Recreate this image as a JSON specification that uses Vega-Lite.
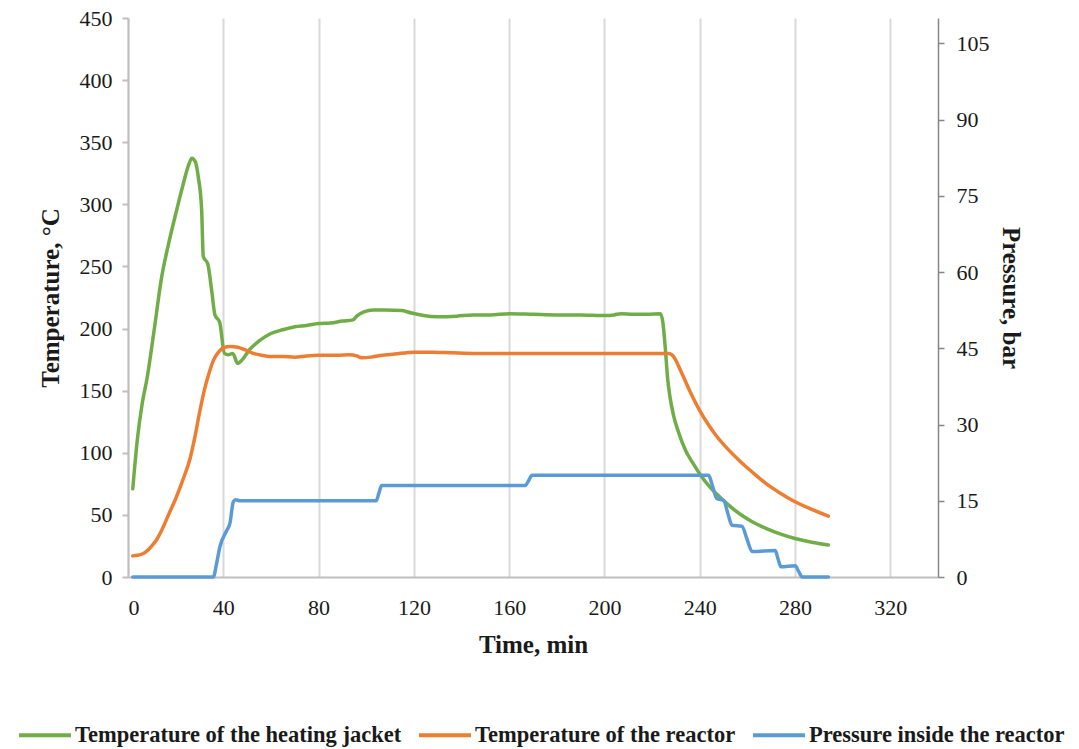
{
  "$schema": "https://vega.github.io/schema/vega-lite/v6.json",
  "width": 810,
  "height": 559,
  "autosize": {"type": "none"},
  "padding": {"left": 128, "top": 18, "right": 141, "bottom": 172},
  "background": "white",
  "config": {
    "view": {"stroke": null},
    "font": "Liberation Serif",
    "axis": {
      "labelFont": "Liberation Serif",
      "labelFontSize": 22,
      "labelColor": "#1a1a1a",
      "titleFont": "Liberation Serif",
      "titleFontSize": 25,
      "titleFontWeight": "bold",
      "titleColor": "#1a1a1a"
    },
    "legend": {
      "labelFont": "Liberation Serif",
      "labelFontSize": 22.5,
      "labelFontWeight": "bold",
      "labelColor": "#1a1a1a"
    }
  },
  "datasets": {
    "temp": [
      {"t": 2, "v": 71, "s": "Temperature of the heating jacket"},
      {"t": 4, "v": 112, "s": "Temperature of the heating jacket"},
      {"t": 6, "v": 140, "s": "Temperature of the heating jacket"},
      {"t": 8, "v": 160, "s": "Temperature of the heating jacket"},
      {"t": 11, "v": 199, "s": "Temperature of the heating jacket"},
      {"t": 14, "v": 240, "s": "Temperature of the heating jacket"},
      {"t": 17, "v": 268, "s": "Temperature of the heating jacket"},
      {"t": 20, "v": 292, "s": "Temperature of the heating jacket"},
      {"t": 23, "v": 315, "s": "Temperature of the heating jacket"},
      {"t": 25.5, "v": 332, "s": "Temperature of the heating jacket"},
      {"t": 26.8, "v": 337, "s": "Temperature of the heating jacket"},
      {"t": 28.3, "v": 334, "s": "Temperature of the heating jacket"},
      {"t": 29.5, "v": 322, "s": "Temperature of the heating jacket"},
      {"t": 30.9, "v": 296, "s": "Temperature of the heating jacket"},
      {"t": 31.6, "v": 258, "s": "Temperature of the heating jacket"},
      {"t": 33.5, "v": 252, "s": "Temperature of the heating jacket"},
      {"t": 35.1, "v": 231, "s": "Temperature of the heating jacket"},
      {"t": 36.5, "v": 211, "s": "Temperature of the heating jacket"},
      {"t": 38.5, "v": 205, "s": "Temperature of the heating jacket"},
      {"t": 40.5, "v": 180, "s": "Temperature of the heating jacket"},
      {"t": 42, "v": 179, "s": "Temperature of the heating jacket"},
      {"t": 44, "v": 180, "s": "Temperature of the heating jacket"},
      {"t": 46, "v": 172, "s": "Temperature of the heating jacket"},
      {"t": 48, "v": 175, "s": "Temperature of the heating jacket"},
      {"t": 51, "v": 183, "s": "Temperature of the heating jacket"},
      {"t": 55, "v": 190, "s": "Temperature of the heating jacket"},
      {"t": 60, "v": 196, "s": "Temperature of the heating jacket"},
      {"t": 65, "v": 199, "s": "Temperature of the heating jacket"},
      {"t": 70, "v": 201.5, "s": "Temperature of the heating jacket"},
      {"t": 75, "v": 202.5, "s": "Temperature of the heating jacket"},
      {"t": 80, "v": 204, "s": "Temperature of the heating jacket"},
      {"t": 85, "v": 204.5, "s": "Temperature of the heating jacket"},
      {"t": 90, "v": 206, "s": "Temperature of the heating jacket"},
      {"t": 94.5, "v": 207, "s": "Temperature of the heating jacket"},
      {"t": 96, "v": 210, "s": "Temperature of the heating jacket"},
      {"t": 99, "v": 213.5, "s": "Temperature of the heating jacket"},
      {"t": 103, "v": 215, "s": "Temperature of the heating jacket"},
      {"t": 108, "v": 215, "s": "Temperature of the heating jacket"},
      {"t": 115, "v": 214.5, "s": "Temperature of the heating jacket"},
      {"t": 119, "v": 212.5, "s": "Temperature of the heating jacket"},
      {"t": 124, "v": 210.5, "s": "Temperature of the heating jacket"},
      {"t": 130, "v": 209.5, "s": "Temperature of the heating jacket"},
      {"t": 138, "v": 210, "s": "Temperature of the heating jacket"},
      {"t": 145, "v": 211, "s": "Temperature of the heating jacket"},
      {"t": 152, "v": 211, "s": "Temperature of the heating jacket"},
      {"t": 160, "v": 212, "s": "Temperature of the heating jacket"},
      {"t": 170, "v": 211.5, "s": "Temperature of the heating jacket"},
      {"t": 180, "v": 211, "s": "Temperature of the heating jacket"},
      {"t": 190, "v": 211, "s": "Temperature of the heating jacket"},
      {"t": 200, "v": 210.5, "s": "Temperature of the heating jacket"},
      {"t": 204, "v": 211, "s": "Temperature of the heating jacket"},
      {"t": 207, "v": 212, "s": "Temperature of the heating jacket"},
      {"t": 212, "v": 211.5, "s": "Temperature of the heating jacket"},
      {"t": 218, "v": 211.5, "s": "Temperature of the heating jacket"},
      {"t": 223.5, "v": 212, "s": "Temperature of the heating jacket"},
      {"t": 224.5, "v": 205, "s": "Temperature of the heating jacket"},
      {"t": 225.5, "v": 185, "s": "Temperature of the heating jacket"},
      {"t": 226.5, "v": 160, "s": "Temperature of the heating jacket"},
      {"t": 227.5, "v": 145, "s": "Temperature of the heating jacket"},
      {"t": 229, "v": 130, "s": "Temperature of the heating jacket"},
      {"t": 231, "v": 117, "s": "Temperature of the heating jacket"},
      {"t": 234, "v": 102, "s": "Temperature of the heating jacket"},
      {"t": 237, "v": 92, "s": "Temperature of the heating jacket"},
      {"t": 240, "v": 83, "s": "Temperature of the heating jacket"},
      {"t": 244, "v": 73, "s": "Temperature of the heating jacket"},
      {"t": 247, "v": 67, "s": "Temperature of the heating jacket"},
      {"t": 252, "v": 58, "s": "Temperature of the heating jacket"},
      {"t": 257, "v": 50.5, "s": "Temperature of the heating jacket"},
      {"t": 262, "v": 44.5, "s": "Temperature of the heating jacket"},
      {"t": 268, "v": 39, "s": "Temperature of the heating jacket"},
      {"t": 274, "v": 34.5, "s": "Temperature of the heating jacket"},
      {"t": 280, "v": 31, "s": "Temperature of the heating jacket"},
      {"t": 287, "v": 28, "s": "Temperature of the heating jacket"},
      {"t": 294, "v": 25.8, "s": "Temperature of the heating jacket"},

      {"t": 2, "v": 17, "s": "Temperature of the reactor"},
      {"t": 4, "v": 17.5, "s": "Temperature of the reactor"},
      {"t": 6, "v": 18.5, "s": "Temperature of the reactor"},
      {"t": 8, "v": 21, "s": "Temperature of the reactor"},
      {"t": 10, "v": 25, "s": "Temperature of the reactor"},
      {"t": 12, "v": 30, "s": "Temperature of the reactor"},
      {"t": 14, "v": 37, "s": "Temperature of the reactor"},
      {"t": 17, "v": 50, "s": "Temperature of the reactor"},
      {"t": 20, "v": 63, "s": "Temperature of the reactor"},
      {"t": 23, "v": 78, "s": "Temperature of the reactor"},
      {"t": 26, "v": 95, "s": "Temperature of the reactor"},
      {"t": 28, "v": 112, "s": "Temperature of the reactor"},
      {"t": 30, "v": 132, "s": "Temperature of the reactor"},
      {"t": 32, "v": 150, "s": "Temperature of the reactor"},
      {"t": 34, "v": 164, "s": "Temperature of the reactor"},
      {"t": 36, "v": 175, "s": "Temperature of the reactor"},
      {"t": 38, "v": 181, "s": "Temperature of the reactor"},
      {"t": 40, "v": 184.5, "s": "Temperature of the reactor"},
      {"t": 43, "v": 185.5, "s": "Temperature of the reactor"},
      {"t": 46, "v": 185, "s": "Temperature of the reactor"},
      {"t": 49, "v": 183, "s": "Temperature of the reactor"},
      {"t": 52, "v": 180.5, "s": "Temperature of the reactor"},
      {"t": 56, "v": 178.5, "s": "Temperature of the reactor"},
      {"t": 60, "v": 177.5, "s": "Temperature of the reactor"},
      {"t": 65, "v": 177.5, "s": "Temperature of the reactor"},
      {"t": 70, "v": 177, "s": "Temperature of the reactor"},
      {"t": 75, "v": 178, "s": "Temperature of the reactor"},
      {"t": 80, "v": 178.5, "s": "Temperature of the reactor"},
      {"t": 88, "v": 178.5, "s": "Temperature of the reactor"},
      {"t": 93, "v": 179, "s": "Temperature of the reactor"},
      {"t": 96, "v": 178, "s": "Temperature of the reactor"},
      {"t": 98, "v": 176.5, "s": "Temperature of the reactor"},
      {"t": 102, "v": 177, "s": "Temperature of the reactor"},
      {"t": 106, "v": 178.3, "s": "Temperature of the reactor"},
      {"t": 112, "v": 179.5, "s": "Temperature of the reactor"},
      {"t": 120, "v": 181, "s": "Temperature of the reactor"},
      {"t": 128, "v": 181, "s": "Temperature of the reactor"},
      {"t": 136, "v": 180.5, "s": "Temperature of the reactor"},
      {"t": 145, "v": 180, "s": "Temperature of the reactor"},
      {"t": 160, "v": 180, "s": "Temperature of the reactor"},
      {"t": 180, "v": 180, "s": "Temperature of the reactor"},
      {"t": 200, "v": 180, "s": "Temperature of the reactor"},
      {"t": 215, "v": 180, "s": "Temperature of the reactor"},
      {"t": 227, "v": 180, "s": "Temperature of the reactor"},
      {"t": 229, "v": 177.5, "s": "Temperature of the reactor"},
      {"t": 232, "v": 166, "s": "Temperature of the reactor"},
      {"t": 236, "v": 149, "s": "Temperature of the reactor"},
      {"t": 240, "v": 134, "s": "Temperature of the reactor"},
      {"t": 244, "v": 121.5, "s": "Temperature of the reactor"},
      {"t": 247, "v": 113.5, "s": "Temperature of the reactor"},
      {"t": 252, "v": 102.5, "s": "Temperature of the reactor"},
      {"t": 257, "v": 93, "s": "Temperature of the reactor"},
      {"t": 262, "v": 84.5, "s": "Temperature of the reactor"},
      {"t": 268, "v": 75, "s": "Temperature of the reactor"},
      {"t": 274, "v": 67.3, "s": "Temperature of the reactor"},
      {"t": 280, "v": 60.6, "s": "Temperature of the reactor"},
      {"t": 287, "v": 54.5, "s": "Temperature of the reactor"},
      {"t": 294, "v": 49, "s": "Temperature of the reactor"}
    ],
    "pres": [
      {"t": 2, "p": 0, "s": "Pressure inside the reactor"},
      {"t": 10, "p": 0, "s": "Pressure inside the reactor"},
      {"t": 20, "p": 0, "s": "Pressure inside the reactor"},
      {"t": 30, "p": 0, "s": "Pressure inside the reactor"},
      {"t": 35.8, "p": 0, "s": "Pressure inside the reactor"},
      {"t": 37.2, "p": 2.7, "s": "Pressure inside the reactor"},
      {"t": 38.6, "p": 6, "s": "Pressure inside the reactor"},
      {"t": 41.5, "p": 9.2, "s": "Pressure inside the reactor"},
      {"t": 42.8, "p": 10.6, "s": "Pressure inside the reactor"},
      {"t": 44.2, "p": 14.8, "s": "Pressure inside the reactor"},
      {"t": 45.2, "p": 15.2, "s": "Pressure inside the reactor"},
      {"t": 47, "p": 15, "s": "Pressure inside the reactor"},
      {"t": 60, "p": 15, "s": "Pressure inside the reactor"},
      {"t": 80, "p": 15, "s": "Pressure inside the reactor"},
      {"t": 100, "p": 15, "s": "Pressure inside the reactor"},
      {"t": 104.2, "p": 15, "s": "Pressure inside the reactor"},
      {"t": 105.3, "p": 16.5, "s": "Pressure inside the reactor"},
      {"t": 106.5, "p": 18, "s": "Pressure inside the reactor"},
      {"t": 108, "p": 18, "s": "Pressure inside the reactor"},
      {"t": 130, "p": 18, "s": "Pressure inside the reactor"},
      {"t": 150, "p": 18, "s": "Pressure inside the reactor"},
      {"t": 166.7, "p": 18, "s": "Pressure inside the reactor"},
      {"t": 168.2, "p": 19, "s": "Pressure inside the reactor"},
      {"t": 169.6, "p": 20, "s": "Pressure inside the reactor"},
      {"t": 171, "p": 20, "s": "Pressure inside the reactor"},
      {"t": 200, "p": 20, "s": "Pressure inside the reactor"},
      {"t": 220, "p": 20, "s": "Pressure inside the reactor"},
      {"t": 243.7, "p": 20, "s": "Pressure inside the reactor"},
      {"t": 245.3, "p": 18, "s": "Pressure inside the reactor"},
      {"t": 247.2, "p": 15.4, "s": "Pressure inside the reactor"},
      {"t": 250, "p": 15.1, "s": "Pressure inside the reactor"},
      {"t": 251.8, "p": 12.5, "s": "Pressure inside the reactor"},
      {"t": 253.5, "p": 10.2, "s": "Pressure inside the reactor"},
      {"t": 257.7, "p": 10, "s": "Pressure inside the reactor"},
      {"t": 259.8, "p": 7.5, "s": "Pressure inside the reactor"},
      {"t": 262, "p": 5, "s": "Pressure inside the reactor"},
      {"t": 271.7, "p": 5.2, "s": "Pressure inside the reactor"},
      {"t": 272.9, "p": 3.5, "s": "Pressure inside the reactor"},
      {"t": 274.1, "p": 2, "s": "Pressure inside the reactor"},
      {"t": 280.1, "p": 2.2, "s": "Pressure inside the reactor"},
      {"t": 281.6, "p": 1, "s": "Pressure inside the reactor"},
      {"t": 283, "p": 0, "s": "Pressure inside the reactor"},
      {"t": 294, "p": 0, "s": "Pressure inside the reactor"}
    ]
  },
  "layer": [
    {
      "data": {"name": "temp"},
      "mark": {"type": "line", "interpolate": "monotone", "strokeWidth": 3.5, "strokeCap": "round", "strokeJoin": "round"},
      "encoding": {
        "x": {
          "field": "t", "type": "quantitative",
          "scale": {"domain": [0, 340], "nice": false, "zero": false},
          "axis": {
            "title": "Time, min",
            "values": [0, 40, 80, 120, 160, 200, 240, 280, 320],
            "grid": true, "gridColor": "#d9d9d9", "gridWidth": 2,
            "ticks": false,
            "domainColor": "#bfbfbf", "domainWidth": 2,
            "labelPadding": 20, "titlePadding": 14
          }
        },
        "y": {
          "field": "v", "type": "quantitative",
          "scale": {"domain": [0, 450], "nice": false},
          "axis": {
            "title": "Temperature, °C",
            "values": [0, 50, 100, 150, 200, 250, 300, 350, 400, 450],
            "grid": false,
            "tickSize": 6, "tickColor": "#bfbfbf", "tickWidth": 2,
            "domainColor": "#bfbfbf", "domainWidth": 2,
            "labelPadding": 10, "titlePadding": 16
          }
        },
        "color": {
          "field": "s", "type": "nominal",
          "scale": {
            "domain": ["Temperature of the heating jacket", "Temperature of the reactor", "Pressure inside the reactor"],
            "range": ["#70ad47", "#ed7d31", "#5b9bd5"]
          },
          "legend": {
            "title": null,
            "orient": "none",
            "legendX": -111,
            "legendY": 689,
            "direction": "horizontal",
            "symbolType": "stroke",
            "symbolSize": 2700,
            "symbolStrokeWidth": 4,
            "labelLimit": 600,
            "labelOffset": 2,
            "columnPadding": 9,
            "padding": 0
          }
        }
      }
    },
    {
      "data": {"name": "pres"},
      "mark": {"type": "line", "interpolate": "monotone", "strokeWidth": 3.5, "strokeCap": "round", "strokeJoin": "round"},
      "encoding": {
        "x": {
          "field": "t", "type": "quantitative",
          "scale": {"domain": [0, 340], "nice": false, "zero": false},
          "axis": {
            "title": "Time, min",
            "values": [0, 40, 80, 120, 160, 200, 240, 280, 320],
            "grid": true, "gridColor": "#d9d9d9", "gridWidth": 2,
            "ticks": false,
            "domainColor": "#bfbfbf", "domainWidth": 2,
            "labelPadding": 20, "titlePadding": 14
          }
        },
        "y": {
          "field": "p", "type": "quantitative",
          "scale": {"domain": [0, 110], "nice": false},
          "axis": {
            "orient": "right",
            "title": "Pressure, bar",
            "values": [0, 15, 30, 45, 60, 75, 90, 105],
            "grid": false,
            "tickSize": 6, "tickColor": "#868686", "tickWidth": 1.5,
            "domainColor": "#868686", "domainWidth": 1.5,
            "labelPadding": 12, "titlePadding": 8
          }
        },
        "color": {
          "field": "s", "type": "nominal",
          "scale": {
            "domain": ["Temperature of the heating jacket", "Temperature of the reactor", "Pressure inside the reactor"],
            "range": ["#70ad47", "#ed7d31", "#5b9bd5"]
          }
        }
      }
    }
  ],
  "resolve": {"scale": {"y": "independent"}}
}
